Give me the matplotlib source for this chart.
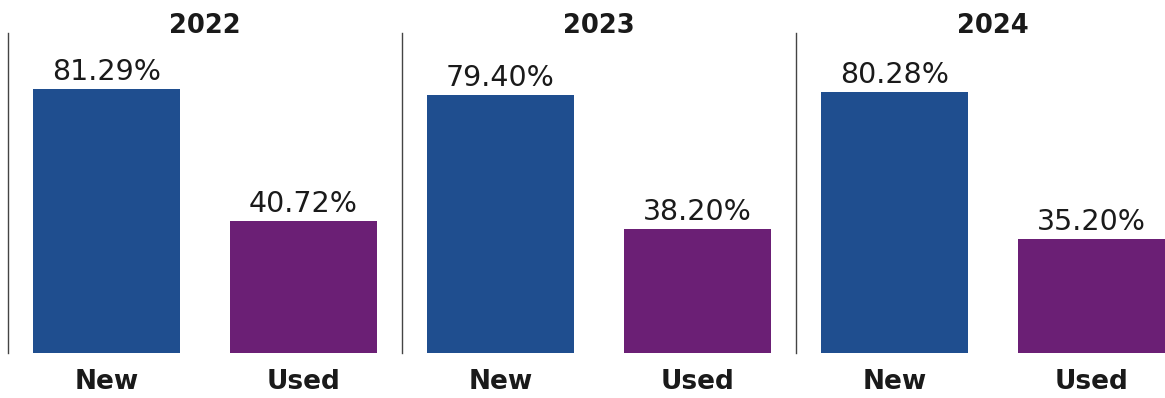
import matplotlib.pyplot as plt

# Share of buyers by vehicle type, per year
years = ['2022', '2023', '2024']
categories = ['New', 'Used']
new_share = [81.29, 79.40, 80.28]
used_share = [40.72, 38.20, 35.20]

bar_colors = ['#1F4E8F', '#6B1F75']
text_color = '#1a1a1a'

W, H = 1165, 398
fig = plt.figure(figsize=(W / 100, H / 100), dpi=100)
plt.rcParams['font.family'] = 'DejaVu Sans'

panel_w = 394
for i, year in enumerate(years):
    left = 8 + i * panel_w
    ax = fig.add_axes([left / W, 45 / H, panel_w / W, 320 / H])
    vals = [new_share[i], used_share[i]]
    ax.bar(range(2), vals, width=0.75, color=bar_colors)

    for x, v in enumerate(vals):
        ax.annotate(f'{v:.2f}%', (x, v), xytext=(0, 6.5), textcoords='offset points',
                    ha='center', va='baseline', fontsize=20.5, color=text_color)

    ax.text(0.5, 1.0, year, transform=ax.transAxes, ha='center', va='baseline',
            fontsize=18.5, fontweight='bold', color=text_color)

    ax.set_xlim(-0.5, 1.5)
    ax.set_ylim(0, 98.5)
    ax.set_xticks(range(2))
    ax.set_xticklabels(categories, fontsize=19, fontweight='bold', color=text_color)
    ax.tick_params(axis='x', length=0, pad=11.5)
    ax.set_yticks([])
    for side in ['top', 'right', 'bottom']:
        ax.spines[side].set_visible(False)
    ax.spines['left'].set_color('#444444')
    ax.spines['left'].set_linewidth(1.0)
    ax.patch.set_alpha(0)

fig.savefig('out.png', dpi=100)
